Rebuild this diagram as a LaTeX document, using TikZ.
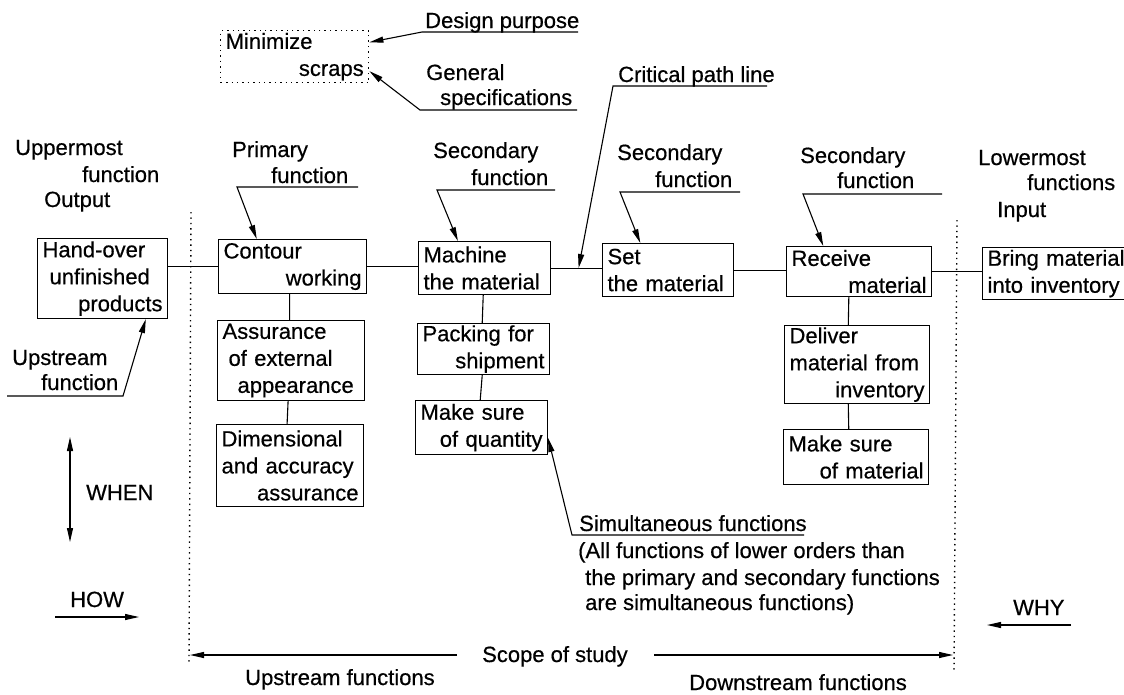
\documentclass[tikz,border=0pt]{standalone}
\usepackage{fontspec}
\setmainfont{Liberation Sans}[FakeBold=0.5]
\usetikzlibrary{arrows.meta,calc}
\begin{document}
\begin{tikzpicture}[x=1pt,y=-1pt,
 every node/.style={font=\fontsize{22}{27}\selectfont},
 box/.style={draw, line width=1.1pt, anchor=north west, inner xsep=5pt, inner ysep=0pt, align=left},
 lbl/.style={anchor=base west, inner sep=0pt},
 ln/.style={line width=1.1pt},
 arr/.style={line width=1.1pt, -{Triangle[length=14pt,width=6pt]}},
 darr/.style={line width=1.1pt, {Triangle[length=14pt,width=6pt]}-{Triangle[length=14pt,width=6pt]}},
 dotl/.style={line width=1.4pt, dash pattern=on 1.4pt off 4pt},
]
\clip (0,0) rectangle (1124,694);
\fill[white] (0,0) rectangle (1124,694);

% boxes
\node[box, dotl, minimum width=148pt, minimum height=52pt, text width=138pt] (mini) at (220,30) {Minimize\\\hspace*{\fill}scraps\hspace*{12pt}};
\node[box, minimum width=130pt, minimum height=80pt, text width=120pt] (hand) at (37,238) {Hand-over\\\hspace*{7pt}unfinished\\\hspace*{\fill}products};
\node[box, minimum width=148pt, minimum height=54pt, text width=138pt] (contour) at (218,239) {Contour\\\hspace*{\fill}working};
\node[box, minimum width=147pt, minimum height=80pt, text width=137pt] (assur) at (217,320) {Assurance\\\hspace*{6pt}of external\\\hspace*{15pt}appearance};
\node[box, minimum width=147pt, minimum height=82pt, text width=137pt] (dim) at (216,424) {Dimensional\\and accuracy\\\hspace*{\fill}assurance};
\node[box, minimum width=132pt, minimum height=53pt, text width=122pt] (machine) at (418,241) {Machine\\the material};
\node[box, minimum width=132pt, minimum height=51pt, text width=122pt] (packing) at (417,323) {Packing for\\\hspace*{\fill}shipment};
\node[box, minimum width=132pt, minimum height=54pt, text width=122pt] (quantity) at (415,400) {Make sure\\\hspace*{\fill}of quantity};
\node[box, minimum width=131pt, minimum height=53pt, text width=121pt] (set) at (602,243) {Set\\the material};
\node[box, minimum width=145pt, minimum height=50pt, text width=135pt] (receive) at (786,246) {Receive\\\hspace*{\fill}material};
\node[box, minimum width=145pt, minimum height=78pt, text width=135pt] (deliver) at (784,325) {Deliver\\material from\\\hspace*{\fill}inventory};
\node[box, minimum width=145pt, minimum height=55pt, text width=135pt] (matl) at (783,429) {Make sure\\\hspace*{\fill}of material};
\node[box, minimum width=200pt, minimum height=52pt, text width=190pt] (bring) at (982,247) {Bring material\\into inventory};

% main connectors
\draw[ln] (hand.east |- contour.west) -- (contour.west);
\draw[ln] (contour.east) -- (contour.east -| machine.west);
\draw[ln] (machine.east) -- (machine.east -| set.west);
\draw[ln] (set.east) -- (set.east -| receive.west);
\draw[ln] (receive.east) -- (receive.east -| bring.west);
\draw[ln] ($(contour.south west)!0.48!(contour.south east)$) -- ($(assur.north west)!0.49!(assur.north east)$);
\draw[ln] ($(assur.south west)!0.48!(assur.south east)$) -- ($(dim.north west)!0.48!(dim.north east)$);
\draw[ln] ($(machine.south west)!0.49!(machine.south east)$) -- ($(packing.north west)!0.49!(packing.north east)$);
\draw[ln] ($(packing.south west)!0.49!(packing.south east)$) -- ($(quantity.north west)!0.49!(quantity.north east)$);
\draw[ln] ($(receive.south west)!0.43!(receive.south east)$) -- ($(deliver.north west)!0.44!(deliver.north east)$);
\draw[ln] ($(deliver.south west)!0.44!(deliver.south east)$) -- ($(matl.north west)!0.45!(matl.north east)$);

% labels
\node[lbl] (dp) at (425,28) {Design purpose};
\node[lbl] (gs1) at (426,80) {General};
\node[lbl] (gs2) at (440,105) {specifications};
\node[lbl] (cpl) at (618,82) {Critical path line};
\node[lbl] (up1) at (15,155) {Uppermost};
\node[lbl] (up2) at (82,182) {function};
\node[lbl] (up3) at (44,207) {Output};
\node[lbl] (pf1) at (232,157) {Primary};
\node[lbl] (pf2) at (271,183) {function};
\node[lbl] (sf1) at (433,158) {Secondary};
\node[lbl] (sf2) at (471,185) {function};
\node[lbl] (sg1) at (617,160) {Secondary};
\node[lbl] (sg2) at (655,187) {function};
\node[lbl] (sh1) at (800,163) {Secondary};
\node[lbl] (sh2) at (837,188) {function};
\node[lbl] (lw1) at (978,165) {Lowermost};
\node[lbl] (lw2) at (1027,190) {functions};
\node[lbl] (lw3) at (997,217) {Input};
\node[lbl] (usf1) at (12,365) {Upstream};
\node[lbl] (usf2) at (41,390) {function};
\node[lbl] (when) at (86,500) {WHEN};
\node[lbl] (how) at (70,607) {HOW};
\node[lbl] (why) at (1013,615) {WHY};
\node[lbl] (scope) at (482,662) {Scope of study};
\node[lbl] (upf) at (245,685) {Upstream functions};
\node[lbl] (dnf) at (689,690) {Downstream functions};
\node[lbl] (sim1) at (579,531) {Simultaneous functions};
\node[lbl] (sim2) at (578,558) {(All functions of lower orders than};
\node[lbl] (sim3) at (585,585) {the primary and secondary functions};
\node[lbl] (sim4) at (585,610) {are simultaneous functions)};

% leader coordinates
\coordinate (dpA) at (578,32); \coordinate (dpB) at (422,32);
\coordinate (gsA) at (577,110); \coordinate (gsB) at (420,110);
\coordinate (cpA) at (767,86); \coordinate (cpB) at (613,86);
\coordinate (pfA) at (358,187); \coordinate (pfB) at (237,187);
\coordinate (sfA) at (555,190); \coordinate (sfB) at (437,190);
\coordinate (sgA) at (740,192); \coordinate (sgB) at (620,192);
\coordinate (shA) at (942,194); \coordinate (shB) at (803,194);
\coordinate (usA) at (7,396); \coordinate (usB) at (123,396);
\coordinate (smA) at (804,535); \coordinate (smB) at (572,535);
\coordinate (cp) at ($(machine.east)!0.54!(machine.east -| set.west)$);

\draw[arr] (dpA) -- (dpB) -- ($(mini.north east)!0.23!(mini.south east)$);
\draw[arr] (gsA) -- (gsB) -- ($(mini.north east)!0.77!(mini.south east)$);
\draw[arr] (cpA) -- (cpB) -- (cp);
\draw[arr] (pfA) -- (pfB) -- ($(contour.north west)!0.26!(contour.north east)$);
\draw[arr] (sfA) -- (sfB) -- ($(machine.north west)!0.30!(machine.north east)$);
\draw[arr] (sgA) -- (sgB) -- ($(set.north west)!0.29!(set.north east)$);
\draw[arr] (shA) -- (shB) -- ($(receive.north west)!0.255!(receive.north east)$);
\draw[arr] (usA) -- (usB) -- ($(hand.south west)!0.83!(hand.south east)$);
\draw[arr] (smA) -- (smB) -- ($(quantity.north east)!0.69!(quantity.south east)$);

% direction arrows
\coordinate (wA) at (70,437); \coordinate (wB) at (70,542);
\draw[darr] (wA) -- (wB);
\coordinate (hA) at (55,617); \coordinate (hB) at (139,617);
\draw[arr] (hA) -- (hB);
\coordinate (yA) at (1071,625); \coordinate (yB) at (987,625);
\draw[arr] (yA) -- (yB);

% scope
\coordinate (dlT) at (191,212); \coordinate (dlB) at (189,663);
\coordinate (drT) at (957,220); \coordinate (drB) at (954,672);
\draw[dotl] (dlT) -- (dlB);
\draw[dotl] (drT) -- (drB);
\coordinate (sL) at (457,655); \coordinate (sLt) at (190,655);
\coordinate (sR) at (654,655); \coordinate (sRt) at (953,655);
\draw[arr] (sL) -- (sLt);
\draw[arr] (sR) -- (sRt);
\end{tikzpicture}
\end{document}
